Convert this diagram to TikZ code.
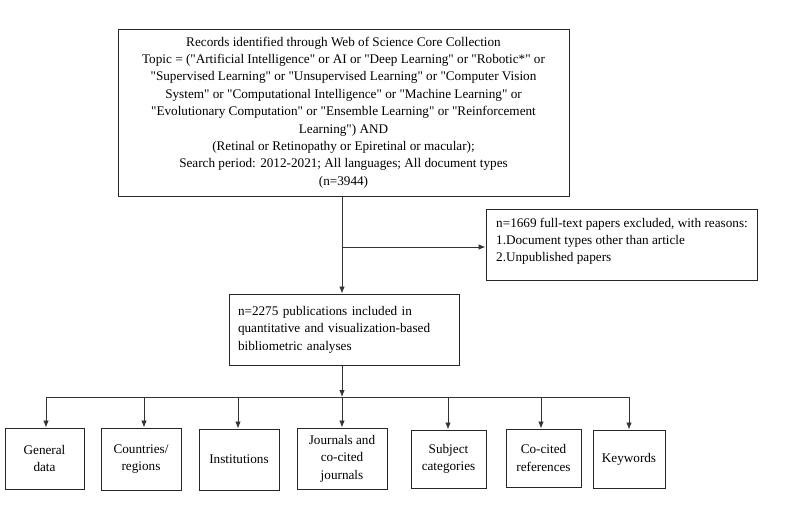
\documentclass[tikz,border=0pt]{standalone}
\usepackage{fontspec}
\setmainfont{Liberation Serif}
\usetikzlibrary{arrows.meta}
\newcommand{\dq}{\textquotedbl}
\begin{document}
\begin{tikzpicture}[x=1pt,y=-1pt,
  box/.style={draw=black!85,line width=1pt,inner sep=0pt,font=\fontsize{13.2}{17.4}\selectfont},
  leaf/.style={box,align=center},
  conn/.style={draw=black!80,line width=0.8pt},
  arr/.style={conn,-{Latex[length=7pt,width=5.5pt]}}]
\useasboundingbox (0,0) rectangle (800,523);
\node[box,align=center,minimum width=451pt,minimum height=167pt] (rec) at (343.5,112.5)
 {Records identified through Web of Science Core Collection\\
  Topic = (\dq Artificial Intelligence\dq{} or AI or \dq Deep Learning\dq{} or \dq Robotic*\dq{} or\\
  \dq Supervised Learning\dq{} or \dq Unsupervised Learning\dq{} or \dq Computer Vision\\
  System\dq{} or \dq Computational Intelligence\dq{} or \dq Machine Learning\dq{} or\\
  \dq Evolutionary Computation\dq{} or \dq Ensemble Learning\dq{} or \dq Reinforcement\\
  Learning\dq) AND\\
  (Retinal or Retinopathy or Epiretinal or macular);\\
  Search period: 2012-2021; All languages; All document types\\
  (n=3944)};
\node[box,minimum width=271pt,minimum height=71pt] (excl) at (621.5,244.5) {};
\node[font=\fontsize{13.2}{17.4}\selectfont,align=left,inner sep=0pt,anchor=north west] (excltext) at (496,217.5)
 {n=1669 full-text papers excluded, with reasons:\\
  1.Document types other than article\\
  2.Unpublished papers};
\node[box,align=left,text width=212pt,minimum width=230pt,minimum height=71pt] (incl) at (344,329.5)
 {n=2275 publications included in\\
  quantitative and visualization-based\\
  bibliometric analyses};
\node[leaf,minimum width=79pt,minimum height=61pt] (gen) at (44.5,458.5) {General\\data};
\node[leaf,minimum width=80pt,minimum height=62pt] (cou) at (141,459) {Countries/\\regions};
\node[leaf,minimum width=80pt,minimum height=61pt] (ins) at (239,459.5) {Institutions};
\node[leaf,minimum width=90pt,minimum height=61pt] (jou) at (342,458.5) {Journals and\\co-cited\\journals};
\node[leaf,minimum width=75pt,minimum height=58pt] (sub) at (448.5,459) {Subject\\categories};
\node[leaf,minimum width=75pt,minimum height=58pt] (coc) at (543.5,458) {Co-cited\\references};
\node[leaf,minimum width=72pt,minimum height=58pt] (key) at (629,459) {Keywords};
\coordinate (j1) at (342,247);
\coordinate (bar) at (342,397);
\coordinate (barL) at (46,397);
\coordinate (barR) at (629,397);
\draw[arr] (rec.south -| j1) -- (incl.north -| j1);
\draw[arr] (j1) -- (j1 -| excl.west);
\draw[arr] (incl.south -| bar) -- (bar);
\draw[conn] (barL) -- (barR);
\draw[arr] (barL) -- (barL |- gen.north);
\draw[arr] (144,397) -- (144,397 |- cou.north);
\draw[arr] (238,397) -- (238,397 |- ins.north);
\draw[arr] (bar) -- (bar |- jou.north);
\draw[arr] (448,397) -- (448,397 |- sub.north);
\draw[arr] (541,397) -- (541,397 |- coc.north);
\draw[arr] (barR) -- (barR |- key.north);
\end{tikzpicture}
\end{document}
